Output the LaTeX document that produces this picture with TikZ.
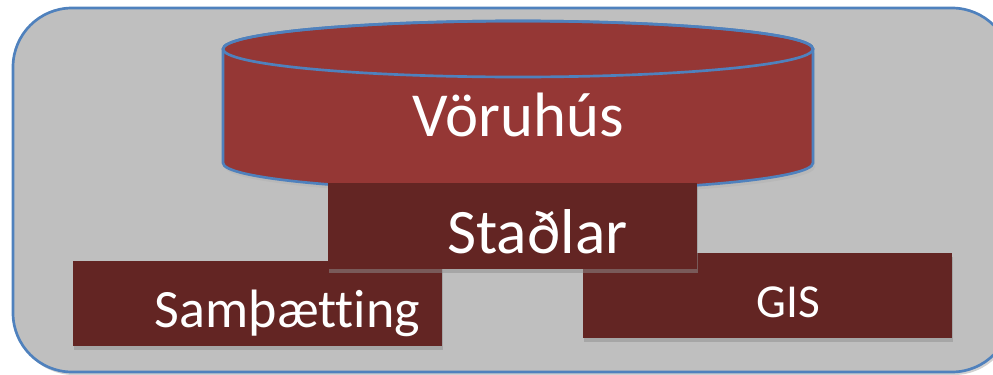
\documentclass[tikz,border=0pt]{standalone}
\usepackage{fontspec}
\setmainfont[Ligatures=NoCommon]{Carlito}
\usetikzlibrary{shadows}
\definecolor{panelgray}{HTML}{BFBFBF}
\definecolor{edgeblue}{HTML}{4F81BD}
\definecolor{storered}{HTML}{953735}
\definecolor{layerred}{HTML}{632523}
\tikzset{
  layer/.style={rectangle,fill=layerred,inner sep=0pt,
    minimum width=276.75pt,minimum height=63.75pt,
    drop shadow={shadow xshift=0.75pt,shadow yshift=-3pt,fill=black!44,opacity=0.5}},
  caption/.style={text=white,anchor=base,inner sep=0pt}
}
\begin{document}
\begin{tikzpicture}[x=0.75pt,y=-0.75pt]
\useasboundingbox (0,0) rectangle (993,375);
\clip (0,0) rectangle (993,375);
% panel
\fill[black!18,rounded corners=44.25pt] (15,11) rectangle (1013,375);
\filldraw[fill=panelgray,draw=edgeblue,line width=2pt,rounded corners=44.25pt] (13,8) rectangle (1011,372);

% warehouse
\fill[black!28] (225,53) -- (225,167) arc[start angle=180,end angle=0,x radius=295,y radius=28] -- (815,53) -- cycle;
\filldraw[fill=storered,draw=edgeblue,line width=2pt] (223,49) -- (223,163)
  arc[start angle=180,end angle=0,x radius=295,y radius=28] -- (813,49)
  arc[start angle=0,end angle=-180,x radius=295,y radius=28] -- cycle;
\draw[edgeblue,line width=2pt] (518,49) ellipse[x radius=295,y radius=28];
\node[caption,font=\fontsize{47}{47}\selectfont] (store) at (518.5,136) {Vöruhús};

% layers
\node[layer] (integration) at (257.5,303.5) {};
\node[caption,font=\fontsize{40.5}{40.5}\selectfont] (integrationname) at (287.5,327) {Samþætting};
\node[layer] (gis) at (767.5,295.5) {};
\node[caption,font=\fontsize{35.5}{35.5}\selectfont] (gisname) at (788,317) {GIS};
\node[layer,minimum height=64.5pt] (standards) at (512.5,226) {};
\node[caption,font=\fontsize{47.5}{47.5}\selectfont] (standardsname) at (537.5,253) {Staðlar};
\end{tikzpicture}
\end{document}
